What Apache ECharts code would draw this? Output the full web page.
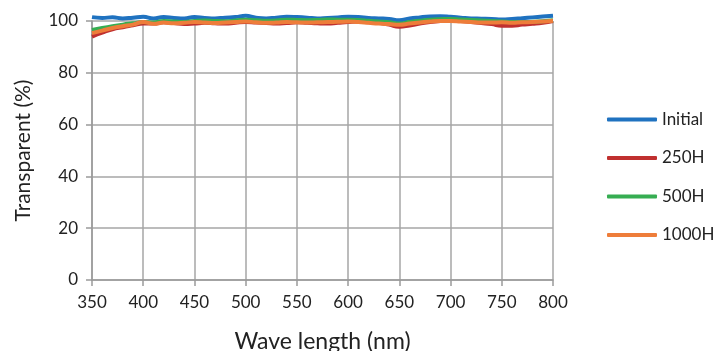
<!DOCTYPE html>
<html>
<head>
<meta charset="utf-8">
<script src="https://cdn.jsdelivr.net/npm/echarts@6/dist/echarts.min.js"></script>
<style>
  html, body { margin: 0; padding: 0; background: #fff; }
  #container { width: 714px; height: 351px; }
</style>
</head>
<body>
<div id="container"></div>
<script>
var waves = [350, 360, 370, 380, 390, 400, 410, 420, 430, 440, 450, 460, 470, 480, 490, 500,
  510, 520, 530, 540, 550, 560, 570, 580, 590, 600, 610, 620, 630, 640, 650,
  660, 670, 680, 690, 700, 710, 720, 730, 740, 750, 760, 770, 780, 790, 800];

var initial = [101.5, 101.2, 101.4, 101.0, 101.3, 101.6, 101.0, 101.5, 101.2, 101.0, 101.5, 101.2, 101.0, 101.3, 101.5, 102.0,
  101.3, 101.0, 101.3, 101.6, 101.5, 101.3, 101.0, 101.2, 101.4, 101.6, 101.5, 101.2, 101.0, 100.8, 100.3,
  101.0, 101.4, 101.7, 101.8, 101.6, 101.3, 101.0, 100.9, 100.8, 100.6, 100.8, 101.1, 101.4, 101.7, 102.0];

var h250 = [94.0, 95.5, 96.8, 97.6, 98.3, 99.0, 99.0, 99.5, 99.2, 98.8, 99.0, 99.3, 99.1, 99.0, 99.3, 99.6,
  99.4, 99.2, 99.0, 99.2, 99.5, 99.3, 99.1, 99.0, 99.3, 99.6, 99.8, 99.5, 99.3, 98.6, 97.8,
  98.3, 99.0, 99.6, 100.0, 100.2, 100.0, 99.6, 99.2, 98.8, 98.2, 98.2, 98.6, 98.9, 99.3, 100.0];

var h500 = [96.5, 97.3, 98.0, 98.6, 99.1, 99.6, 99.4, 100.0, 99.8, 99.6, 100.0, 100.2, 100.0, 99.9, 100.2, 100.5,
  100.3, 100.1, 100.2, 100.5, 100.4, 100.3, 100.4, 100.6, 100.5, 100.5, 100.4, 100.1, 99.8, 99.5, 99.0,
  99.6, 100.1, 100.5, 100.7, 100.8, 100.6, 100.4, 100.2, 100.0, 99.8, 99.6, 99.6, 99.7, 99.9, 100.3];

var h1000 = [95.3, 96.3, 97.3, 98.0, 98.6, 99.6, 98.9, 99.4, 99.1, 99.3, 99.6, 99.4, 99.2, 99.4, 99.6, 99.8,
  99.5, 99.3, 99.4, 99.6, 99.5, 99.4, 99.5, 99.6, 99.7, 99.8, 99.6, 99.3, 99.0, 98.8, 98.6,
  99.0, 99.4, 99.8, 100.0, 100.0, 99.8, 99.6, 99.4, 99.4, 99.5, 99.3, 99.5, 99.6, 99.8, 100.1];

var seriesNames = ['Initial', '250H', '500H', '1000H'];
var seriesData = [initial, h250, h500, h1000];
var colors = ['#1f72c0', '#c0302f', '#36ad52', '#ee7d3a'];

var dom = document.getElementById('container');
var myChart = echarts.init(dom, null, { renderer: 'canvas' });

function pairs(ys) {
  return waves.map(function (x, i) { return [x, ys[i]]; });
}

var option = {
  backgroundColor: '#ffffff',
  animation: false,
  textStyle: { fontFamily: 'Lato' },
  // top edge of the plot sits at 100, curves above it are left unclipped
  grid: { left: 92, right: 161, top: 21, bottom: 71, outerBoundsMode: 'none' },
  legend: {
    orient: 'vertical',
    left: 602,
    top: 106,
    icon: 'roundRect',
    itemWidth: 50,
    itemHeight: 4,
    itemGap: 21.5,
    textStyle: { fontSize: 17, color: '#222' },
    data: seriesNames
  },
  xAxis: {
    type: 'value',
    min: 350,
    max: 800,
    interval: 50,
    name: 'Wave length (nm)',
    nameLocation: 'middle',
    nameGap: 50,
    nameTextStyle: { fontSize: 23, color: '#222' },
    axisLine: { lineStyle: { color: '#9a9a9a', width: 1.5 } },
    axisTick: { show: true, length: 6, lineStyle: { color: '#9a9a9a', width: 1.5 } },
    axisLabel: { fontSize: 17, color: '#222', margin: 14 },
    splitLine: { show: true, lineStyle: { color: '#a6a6a6', width: 1.5 } }
  },
  yAxis: {
    type: 'value',
    min: 0,
    max: 100,
    interval: 20,
    name: 'Transparent (%)',
    nameLocation: 'middle',
    nameGap: 58,
    nameTextStyle: { fontSize: 21, color: '#222' },
    axisLine: { show: true, lineStyle: { color: '#9a9a9a', width: 1.5 } },
    axisTick: { show: true, length: 6, lineStyle: { color: '#9a9a9a', width: 1.5 } },
    axisLabel: { fontSize: 17, color: '#222', margin: 14 },
    splitLine: { show: true, lineStyle: { color: '#a6a6a6', width: 1.5 } }
  },
  series: seriesNames.map(function (n, i) {
    return {
      name: n,
      type: 'line',
      data: pairs(seriesData[i]),
      symbol: 'none',
      smooth: true,
      clip: false,
      color: colors[i],
      lineStyle: { width: 4, color: colors[i] }
    };
  })
};

myChart.setOption(option);
window.addEventListener('resize', myChart.resize);
</script>
</body>
</html>
